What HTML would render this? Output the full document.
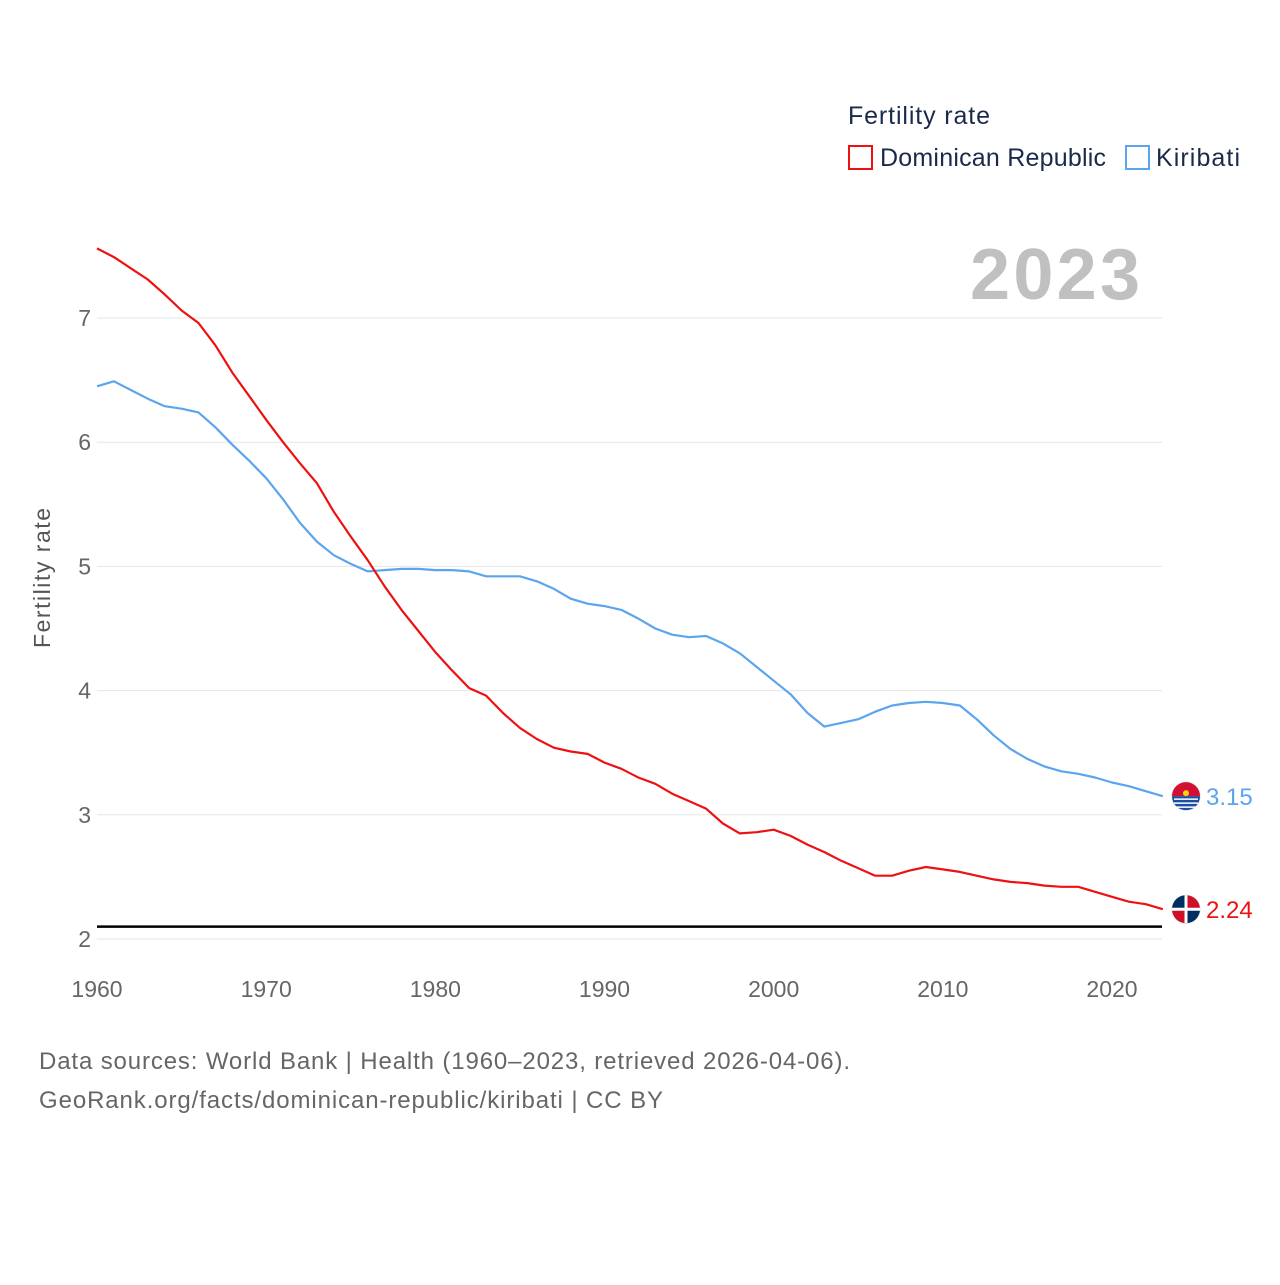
<!DOCTYPE html>
<html><head><meta charset="utf-8">
<style>
html,body{margin:0;padding:0;background:#fff;}
body{width:1280px;height:1280px;overflow:hidden;font-family:"Liberation Sans",sans-serif;}
</style></head>
<body>
<svg id="chart" width="1280" height="1280" xmlns="http://www.w3.org/2000/svg" font-family="Liberation Sans, sans-serif">
  <g>
    <text x="848" y="124" font-size="25" fill="#1a2a4a" textLength="142">Fertility rate</text>
    <rect x="849" y="146" width="23" height="23" fill="none" stroke="#ee1111" stroke-width="2"/>
    <text x="880" y="166" font-size="25" fill="#1a2a4a" textLength="226">Dominican Republic</text>
    <rect x="1126" y="146" width="23" height="23" fill="none" stroke="#5ba5ee" stroke-width="2"/>
    <text x="1156" y="166" font-size="25" fill="#1a2a4a" textLength="84">Kiribati</text>
  </g>
  <text x="970" y="299" font-size="72" font-weight="bold" fill="#c0c0c0" textLength="170">2023</text>
  <g id="grid"></g>
  <g id="yticks"></g>
  <g id="xticks"></g>
  <text transform="translate(50,578) rotate(-90)" font-size="23" fill="#555" text-anchor="middle" textLength="140">Fertility rate</text>
  <g id="series"></g>
  <text x="39" y="1069" font-size="24" fill="#666" textLength="811">Data sources: World Bank | Health (1960–2023, retrieved 2026-04-06).</text>
  <text x="39" y="1108" font-size="24" fill="#666" textLength="624">GeoRank.org/facts/dominican-republic/kiribati | CC BY</text>
</svg>
<script>
const years = [];
for (let y = 1960; y <= 2023; y++) years.push(y);
const dominicanRepublic = [7.56,7.49,7.40,7.31,7.19,7.06,6.96,6.78,6.56,6.37,6.18,6.00,5.83,5.67,5.44,5.24,5.05,4.84,4.65,4.48,4.31,4.16,4.02,3.96,3.82,3.70,3.61,3.54,3.51,3.49,3.42,3.37,3.30,3.25,3.17,3.11,3.05,2.93,2.85,2.86,2.88,2.83,2.76,2.70,2.63,2.57,2.51,2.51,2.55,2.58,2.56,2.54,2.51,2.48,2.46,2.45,2.43,2.42,2.42,2.38,2.34,2.30,2.28,2.24];
const kiribati = [6.45,6.49,6.42,6.35,6.29,6.27,6.24,6.12,5.98,5.85,5.71,5.54,5.35,5.20,5.09,5.02,4.96,4.97,4.98,4.98,4.97,4.97,4.96,4.92,4.92,4.92,4.88,4.82,4.74,4.70,4.68,4.65,4.58,4.50,4.45,4.43,4.44,4.38,4.30,4.19,4.08,3.97,3.82,3.71,3.74,3.77,3.83,3.88,3.90,3.91,3.90,3.88,3.77,3.64,3.53,3.45,3.39,3.35,3.33,3.30,3.26,3.23,3.19,3.15];
const yTicks = [2,3,4,5,6,7];
const xTicks = [1960,1970,1980,1990,2000,2010,2020];
const replacementRate = 2.1;

const NS = "http://www.w3.org/2000/svg";
const x = yr => 97 + (yr - 1960) * (1015 / 60);
const y = v => 939 - (v - 2) * 124.2;
function mk(tag, attrs, parent, txt) {
  const e = document.createElementNS(NS, tag);
  for (const k in attrs) e.setAttribute(k, attrs[k]);
  if (txt !== undefined) e.textContent = txt;
  parent.appendChild(e);
  return e;
}
const grid = document.getElementById('grid');
const yt = document.getElementById('yticks');
const xt = document.getElementById('xticks');
yTicks.forEach(t => {
  const l = mk('line', {x1: 97, x2: 1162, y1: y(t), y2: y(t), stroke: '#e6e6e6', 'stroke-width': 1}, grid);
  
  
  const tx = mk('text', {x: 91, y: y(t) + 8, 'font-size': 23, fill: '#666', 'text-anchor': 'end'}, yt, String(t));
  
  
});
xTicks.forEach(t => {
  const tx = mk('text', {x: x(t), y: 997, 'font-size': 23, fill: '#666', 'text-anchor': 'middle'}, xt, String(t));
  
  
});
const s = document.getElementById('series');
const ref = mk('line', {x1: 97, x2: 1162, y1: y(replacementRate), y2: y(replacementRate), stroke: '#000', 'stroke-width': 2.5}, s);


function line(data, color, name) {
  const d = data.map((v, i) => (i ? 'L' : 'M') + x(years[i]).toFixed(1) + ',' + y(v).toFixed(1)).join('');
  const p = mk('path', {d: d, fill: 'none', stroke: color, 'stroke-width': 2.2, 'stroke-linejoin': 'round'}, s);
  
  
  const last = data[data.length - 1];
  const cy = y(last);
  const g = mk('g', {}, s);
  
  
  mk('circle', {cx: 1186, cy: cy, r: 14, fill: '#fff', stroke: '#ddd'}, g);
  return {g: g, cy: cy, last: last, color: color};
}
const kb = line(kiribati, '#5ba5ee', 'kiribati');
mk('path', {d: `M1172,${kb.cy} A14,14 0 0 1 1200,${kb.cy} Z`, fill: '#d21034'}, kb.g);
mk('path', {d: `M1172,${kb.cy} A14,14 0 0 0 1200,${kb.cy} Z`, fill: '#1b4ea0'}, kb.g);
mk('circle', {cx: 1186, cy: kb.cy - 3, r: 3, fill: '#fcd116'}, kb.g);
for (let i = 0; i < 3; i++) mk('line', {x1: 1174, x2: 1198, y1: kb.cy + 3 + i * 4, y2: kb.cy + 3 + i * 4, stroke: '#fff', 'stroke-width': 1.5}, kb.g);
const dr = line(dominicanRepublic, '#ee1111', 'dominican-republic');
mk('path', {d: `M1186,${dr.cy - 14} A14,14 0 0 0 1172,${dr.cy} L1186,${dr.cy} Z`, fill: '#002d62'}, dr.g);
mk('path', {d: `M1186,${dr.cy - 14} A14,14 0 0 1 1200,${dr.cy} L1186,${dr.cy} Z`, fill: '#ce1126'}, dr.g);
mk('path', {d: `M1186,${dr.cy + 14} A14,14 0 0 1 1172,${dr.cy} L1186,${dr.cy} Z`, fill: '#ce1126'}, dr.g);
mk('path', {d: `M1186,${dr.cy + 14} A14,14 0 0 0 1200,${dr.cy} L1186,${dr.cy} Z`, fill: '#002d62'}, dr.g);
mk('line', {x1: 1172, x2: 1200, y1: dr.cy, y2: dr.cy, stroke: '#fff', 'stroke-width': 3}, dr.g);
mk('line', {x1: 1186, x2: 1186, y1: dr.cy - 14, y2: dr.cy + 14, stroke: '#fff', 'stroke-width': 3}, dr.g);
[kb, dr].forEach((o, i) => {
  const t = mk('text', {x: 1206, y: o.cy + 9, 'font-size': 24, fill: o.color}, s, o.last.toFixed(2));
  
  
});
</script>
</body></html>
